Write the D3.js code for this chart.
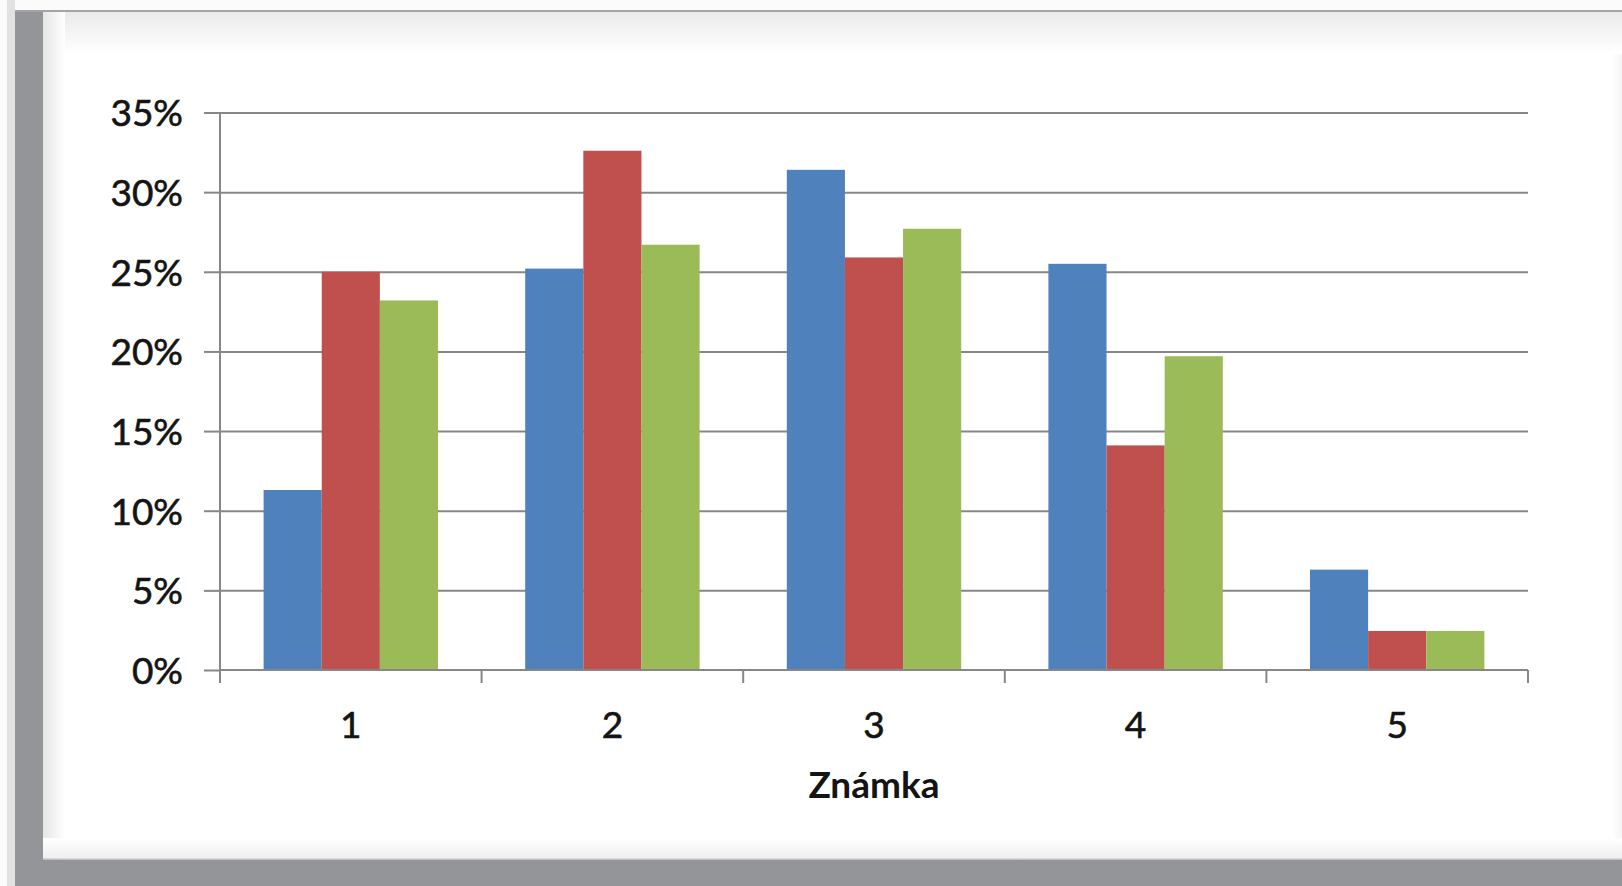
<!DOCTYPE html>
<html>
<head>
<meta charset="utf-8">
<script src="https://cdn.jsdelivr.net/npm/d3@7"></script>
<style>
  html, body { margin: 0; padding: 0; background: #fbfbfb; overflow: hidden; }
  svg { display: block; }
  .tick text { font-family: Lato, "Open Sans", sans-serif; }
</style>
</head>
<body>
<div id="chart"></div>
<script>
// Grade distribution, three series per grade (in %)
const categories = ["1", "2", "3", "4", "5"];
const seriesNames = ["A", "B", "C"];
const seriesBlue = [11.3, 25.2, 31.4, 25.5, 6.3];
const seriesRed = [25.0, 32.6, 25.9, 14.1, 2.45];
const seriesGreen = [23.2, 26.7, 27.7, 19.7, 2.45];
const yTicks = [0, 5, 10, 15, 20, 25, 30, 35];
const colors = ["#4F81BD", "#C0504D", "#9BBB59"];
const xTitle = "Známka";

const W = 1622, H = 886;
const plot = {left: 220, right: 1528, top: 112.5, bottom: 670};
const textColor = "#141414";

const svg = d3.select("#chart").append("svg")
    .attr("width", W)
    .attr("height", H);

// --- frame / background, like the screenshot of a document page
const defs = svg.append("defs");
function grad(id, x1, y1, x2, y2, c1, c2) {
    const g = defs.append("linearGradient").attr("id", id)
        .attr("x1", x1).attr("y1", y1).attr("x2", x2).attr("y2", y2);
    g.append("stop").attr("offset", "0%").attr("stop-color", c1);
    g.append("stop").attr("offset", "100%").attr("stop-color", c2);
}
grad("gTop", 0, 0, 0, 1, "#eaeaea", "#ffffff");
grad("gLeft", 0, 0, 1, 0, "#e6e6e6", "#ffffff");
grad("gBottom", 0, 0, 0, 1, "#ffffff", "#efefef");
grad("gRight", 0, 0, 1, 0, "#ffffff", "#f5f5f5");

svg.append("rect").attr("x", 7).attr("y", 0).attr("width", 8).attr("height", H).attr("fill", "#e2e2e2");
svg.append("rect").attr("x", 15).attr("y", 10).attr("width", W - 15).attr("height", H - 10).attr("fill", "#939598");
svg.append("rect").attr("x", 43).attr("y", 12).attr("width", W - 43).attr("height", 847).attr("fill", "#ffffff");
svg.append("rect").attr("x", 43).attr("y", 12).attr("width", W - 43).attr("height", 42).attr("fill", "url(#gTop)");
svg.append("rect").attr("x", 43).attr("y", 12).attr("width", 22).attr("height", 847).attr("fill", "url(#gLeft)");
svg.append("rect").attr("x", 43).attr("y", 838).attr("width", W - 43).attr("height", 20).attr("fill", "url(#gBottom)");
svg.append("rect").attr("x", 1612).attr("y", 54).attr("width", 10).attr("height", 784).attr("fill", "url(#gRight)");
svg.append("line").attr("x1", 15).attr("x2", W).attr("y1", 11).attr("y2", 11)
    .attr("stroke", "#a4a4a6").attr("stroke-width", 2);
svg.append("line").attr("x1", 43).attr("x2", W).attr("y1", 859).attr("y2", 859)
    .attr("stroke", "#cfcfcf").attr("stroke-width", 1.5);

// --- scales
const y = d3.scaleLinear().domain([0, 35]).range([plot.bottom, plot.top]);
const xCat = d3.scaleBand().domain(categories).range([plot.left, plot.right]).padding(0);
const bw = xCat.bandwidth();
const xSub = d3.scaleBand().domain(seriesNames).range([bw / 6, bw * 5 / 6]).padding(0);

const data = categories.map((c, i) => ({
    cat: c,
    values: [seriesBlue[i], seriesRed[i], seriesGreen[i]]
}));

const lineColor = "#878787";

// gridlines
svg.append("g")
    .attr("transform", `translate(${plot.left},0)`)
    .call(d3.axisRight(y).tickValues(yTicks.slice(1)).tickSize(plot.right - plot.left).tickFormat(""))
    .call(g => g.select(".domain").remove())
    .call(g => g.selectAll("line").attr("stroke", lineColor).attr("stroke-width", 2));

// bars
const groups = svg.append("g").selectAll("g")
    .data(data)
    .join("g")
    .attr("transform", d => `translate(${xCat(d.cat)},0)`);

groups.selectAll("rect")
    .data(d => d.values.map((v, k) => ({v, k})))
    .join("rect")
    .attr("x", d => xSub(seriesNames[d.k]))
    .attr("width", xSub.bandwidth())
    .attr("y", d => y(d.v))
    .attr("height", d => y(0) - y(d.v))
    .attr("fill", d => colors[d.k]);

// y axis
svg.append("g")
    .attr("transform", `translate(${plot.left},0)`)
    .call(d3.axisLeft(y).tickValues(yTicks).tickSize(16).tickSizeOuter(0).tickPadding(21).tickFormat(d => d + "%"))
    .call(g => g.select(".domain").attr("stroke", lineColor).attr("stroke-width", 2)
        .attr("d", `M0,${plot.top}V${plot.bottom + 13}`))
    .call(g => g.selectAll("line").attr("stroke", lineColor).attr("stroke-width", 2))
    .call(g => g.selectAll("text").attr("fill", textColor).attr("stroke", textColor).attr("stroke-width", 0.6)
        .style("font-size", "37px").attr("dy", "0.36em"));

// x axis: labels at the centre of each category, ticks at the boundaries
svg.append("g")
    .attr("transform", `translate(0,${plot.bottom})`)
    .call(d3.axisBottom(xCat).tickSize(0).tickPadding(42))
    .call(g => g.select(".domain").remove())
    .call(g => g.selectAll("text").attr("fill", textColor).attr("stroke", textColor).attr("stroke-width", 0.6)
        .style("font-size", "37px"));

svg.append("line")
    .attr("x1", plot.left).attr("x2", plot.right)
    .attr("y1", plot.bottom).attr("y2", plot.bottom)
    .attr("stroke", lineColor).attr("stroke-width", 2);

const bounds = categories.map(c => xCat(c)).concat([plot.right]);
svg.append("g").selectAll("line")
    .data(bounds)
    .join("line")
    .attr("x1", d => d).attr("x2", d => d)
    .attr("y1", plot.bottom).attr("y2", plot.bottom + 13)
    .attr("stroke", lineColor).attr("stroke-width", 2);

// axis title
svg.append("text")
    .attr("x", (plot.left + plot.right) / 2)
    .attr("y", 798)
    .attr("text-anchor", "middle")
    .style("font-family", "Lato, 'Open Sans', sans-serif")
    .style("font-weight", "bold")
    .style("font-size", "37px")
    .attr("fill", textColor)
    .text(xTitle);
</script>
</body>
</html>
